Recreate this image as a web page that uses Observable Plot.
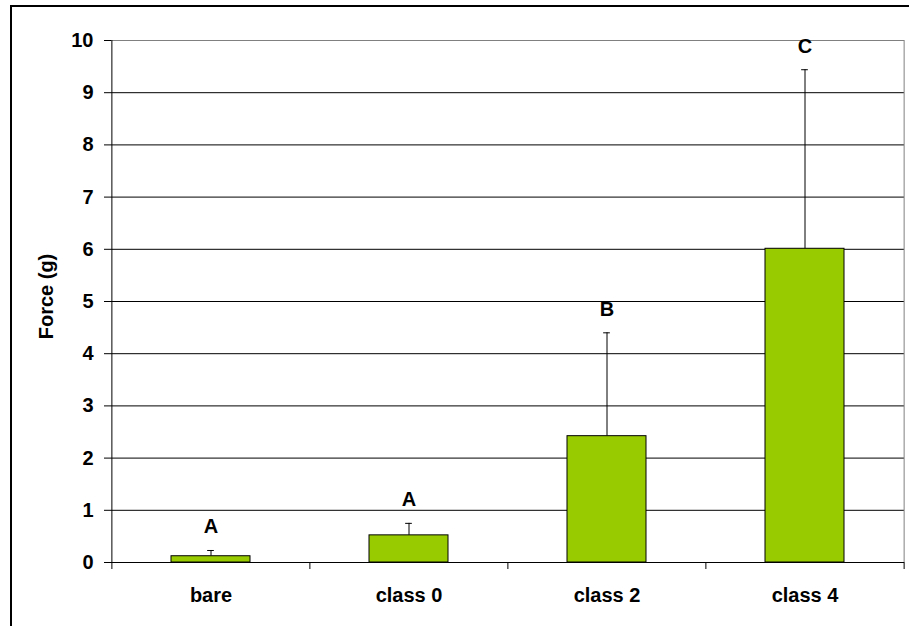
<!DOCTYPE html>
<html>
<head>
<meta charset="utf-8">
<script src="https://cdn.jsdelivr.net/npm/d3@7"></script>
<script src="https://cdn.jsdelivr.net/npm/@observablehq/plot@0.6"></script>
<style>
  body { margin: 0; background: #fff; overflow: hidden; }
  #wrap { position: relative; width: 909px; height: 626px; }
  #border {
    position: absolute; left: 10px; top: 5px; width: 1000px; height: 1000px;
    border-left: 2px solid #000; border-top: 2px solid #000; pointer-events: none;
  }
</style>
</head>
<body>
<div id="wrap"><div id="border"></div></div>
<script>
// Mean force per group, with the upper standard deviation and significance letters
const groups = ["bare", "class 0", "class 2", "class 4"];
const means = [0.12, 0.52, 2.42, 6.01];
const errors = [0.11, 0.23, 1.98, 3.43];
const letters = ["A", "A", "B", "C"];
const yTicks = [0, 1, 2, 3, 4, 5, 6, 7, 8, 9, 10];
const yTitle = "Force (g)";

const W = 909, H = 626;
const mL = 111, mR = 5, mT = 40, mB = 64;
const step = (W - mL - mR) / groups.length;
const padIn = 0.6;
const bandW = step * (1 - padIn);
const capW = 7;

const data = groups.map((g, i) => ({
  group: g, mean: means[i], err: errors[i], top: means[i] + errors[i], letter: letters[i]
}));

const font = "'Liberation Sans', Arial, sans-serif";
const last = groups[groups.length - 1];

const chart = Plot.plot({
  width: W, height: H,
  marginLeft: mL, marginRight: mR, marginTop: mT, marginBottom: mB,
  style: { fontFamily: font, fontSize: "20px", fontWeight: "bold", color: "#000", background: "transparent" },
  x: { domain: groups, paddingInner: padIn, paddingOuter: padIn / 2, label: null },
  y: { domain: [0, 10], label: null },
  marks: [
    // horizontal gridlines, grey plot-area border on top and right
    Plot.ruleY(yTicks.filter(v => v > 0 && v < 10), { stroke: "#000", strokeWidth: 1 }),
    Plot.ruleY([10], { stroke: "#808080" }),
    Plot.ruleX([last], { dx: step / 2, y1: 0, y2: 10, stroke: "#808080" }),
    Plot.ruleX([groups[0]], { dx: -step / 2, y1: 0, y2: 10, stroke: "#000" }),
    // value axis
    Plot.axisY({ ticks: yTicks, tickSize: 7, tickPadding: 11, tickFormat: d => String(d), label: null }),
    // category boundary ticks below the baseline
    Plot.axisX(groups, { tickSize: 7, tickFormat: () => "", dx: -step / 2, label: null }),
    Plot.axisX([last], { tickSize: 7, tickFormat: () => "", dx: step / 2, label: null }),
    // category labels
    Plot.axisX({ tickSize: 0, tickPadding: 25.5, label: null }),
    // upper error bars
    Plot.ruleX(data, { x: "group", y1: "mean", y2: "top", stroke: "#000" }),
    Plot.tickY(data, { x: "group", y: "top", stroke: "#000", insetLeft: (bandW - capW) / 2, insetRight: (bandW - capW) / 2 }),
    // bars
    Plot.barY(data, { x: "group", y: "mean", fill: "#99CC00", stroke: "#000", strokeWidth: 1 }),
    Plot.ruleY([0], { stroke: "#000" }),
    // significance letters
    Plot.text(data, { x: "group", y: "top", text: "letter", dy: -17, lineAnchor: "bottom" }),
    // y title
    Plot.text([yTitle], { frameAnchor: "left", textAnchor: "middle", rotate: -90, dx: -65, dy: -5 })
  ]
});

document.getElementById("wrap").prepend(chart);
</script>
</body>
</html>
